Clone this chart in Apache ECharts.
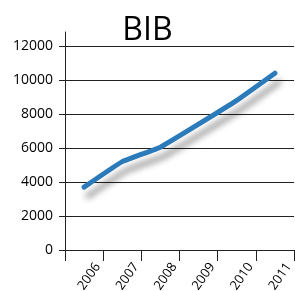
<!DOCTYPE html>
<html>
<head>
<meta charset="utf-8">
<script src="https://cdn.jsdelivr.net/npm/echarts@6/dist/echarts.min.js"></script>
<style>html,body{margin:0;padding:0;background:#fff;}#c{width:295px;height:291px;}</style>
</head>
<body>
<div id="c"></div>
<script>
var title = 'BIB';
var years = ['2006', '2007', '2008', '2009', '2010', '2011'];
var values = [3700, 5200, 6050, 7400, 8800, 10400];
var yMin = 0, yMax = 12000, yStep = 2000;

var font = 'Open Sans';
var chart = echarts.init(document.getElementById('c'));
chart.setOption({
  animation: false,
  backgroundColor: '#fff',
  title: {
    text: title, left: 'center', top: 10,
    textStyle: { fontFamily: font, fontSize: 32, fontWeight: 'normal', color: '#000' }
  },
  grid: [
    { left: 65, right: 1, top: 46, bottom: 41, containLabel: false, outerBoundsMode: 'none' },
    { left: 65, right: 1, top: 32, bottom: 41, containLabel: false, outerBoundsMode: 'none' }
  ],
  xAxis: [
    {
      type: 'category', gridIndex: 0, data: years, boundaryGap: true,
      axisLine: { show: true, lineStyle: { color: '#222', width: 1 } },
      axisTick: { show: true, length: 11, lineStyle: { color: '#222', width: 1 } },
      axisLabel: { show: false }
    },
    {
      type: 'category', gridIndex: 0, data: [''].concat(years), boundaryGap: false, position: 'bottom',
      axisLine: { show: false }, axisTick: { show: false },
      axisLabel: {
        interval: 0, rotate: 55, margin: 18, align: 'right', verticalAlign: 'bottom',
        fontFamily: font, fontSize: 13, color: '#000'
      }
    },
    { type: 'category', gridIndex: 1, data: years, show: false }
  ],
  yAxis: [
    {
      type: 'value', gridIndex: 0, min: yMin, max: yMax, interval: yStep,
      axisLine: { show: true, lineStyle: { color: '#222', width: 1 } },
      axisTick: { show: true, length: 6, lineStyle: { color: '#222', width: 1 } },
      axisLabel: { margin: 12, fontFamily: font, fontSize: 14, color: '#000',
        formatter: function (v) { return String(v); } },
      splitLine: { show: true, lineStyle: { color: '#222', width: 1 } }
    },
    {
      type: 'value', gridIndex: 1, min: yMin, max: yMax, interval: yStep,
      axisLine: { show: true, lineStyle: { color: '#222', width: 1 } },
      axisTick: { show: false }, axisLabel: { show: false }, splitLine: { show: false }
    }
  ],
  series: [{
    type: 'line', xAxisIndex: 0, yAxisIndex: 0, data: values,
    symbol: 'none', smooth: 0.1,
    lineStyle: {
      color: '#2b7bba', width: 5, cap: 'round', join: 'round',
      shadowColor: 'rgba(0,0,0,0.4)', shadowBlur: 6, shadowOffsetX: 4, shadowOffsetY: 9
    }
  }]
});
</script>
</body>
</html>
